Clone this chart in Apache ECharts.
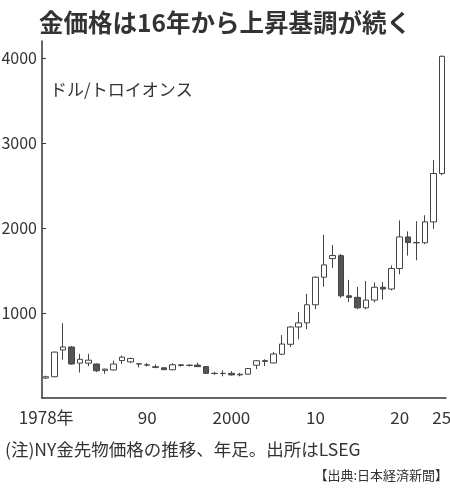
<!DOCTYPE html>
<html>
<head>
<meta charset="utf-8">
<script src="https://cdn.jsdelivr.net/npm/echarts@6/dist/echarts.min.js"></script>
<style>
  html, body { margin: 0; padding: 0; background: #fff; }
  #chart { width: 450px; height: 489px; }
</style>
</head>
<body>
<div id="chart"></div>
<script>
// 年足 (1978-2025)
var years = [];
for (var y = 1978; y <= 2025; y++) years.push(String(y));

// [始値, 終値, 安値, 高値]  ドル/トロイオンス
var candles = [
  [235, 250, 225, 262],    // 1978
  [250, 540, 245, 545],    // 1979
  [565, 600, 450, 880],    // 1980
  [600, 400, 390, 610],    // 1981
  [410, 455, 300, 520],    // 1982
  [410, 445, 375, 520],    // 1983
  [400, 320, 305, 405],    // 1984
  [325, 340, 285, 345],    // 1985
  [330, 400, 325, 440],    // 1986
  [440, 480, 400, 500],    // 1987
  [425, 465, 410, 475],    // 1988
  [400, 403, 360, 405],    // 1989
  [388, 390, 370, 410],    // 1990
  [360, 368, 350, 395],    // 1991
  [355, 333, 330, 360],    // 1992
  [333, 391, 326, 410],    // 1993
  [390, 383, 370, 395],    // 1994
  [383, 387, 370, 395],    // 1995
  [387, 369, 365, 415],    // 1996
  [369, 290, 285, 370],    // 1997
  [290, 288, 275, 310],    // 1998
  [288, 290, 255, 325],    // 1999
  [290, 272, 265, 315],    // 2000
  [272, 279, 256, 295],    // 2001
  [280, 347, 277, 350],    // 2002
  [385, 438, 340, 445],    // 2003
  [430, 440, 375, 455],    // 2004
  [412, 518, 410, 540],    // 2005
  [515, 635, 505, 740],    // 2006
  [632, 835, 600, 845],    // 2007
  [835, 884, 690, 1010],   // 2008
  [884, 1097, 810, 1225],  // 2009
  [1097, 1421, 1045, 1430],// 2010
  [1421, 1566, 1310, 1920],// 2011
  [1640, 1676, 1530, 1800],// 2012
  [1675, 1202, 1180, 1695],// 2013
  [1202, 1184, 1130, 1390],// 2014
  [1184, 1061, 1045, 1307],// 2015
  [1061, 1152, 1045, 1377],// 2016
  [1152, 1303, 1125, 1360],// 2017
  [1303, 1282, 1160, 1365],// 2018
  [1282, 1523, 1265, 1560],// 2019
  [1523, 1895, 1455, 2090],// 2020
  [1895, 1829, 1675, 1960],// 2021
  [1829, 1826, 1620, 2080],// 2022
  [1826, 2072, 1810, 2150],// 2023
  [2072, 2641, 1990, 2800],// 2024
  [2641, 4020, 2620, 4030] // 2025
];

var xLabelYears = ['1978', '1990', '2000', '2010', '2020', '2025'];
var yTicks = [1000, 2000, 3000, 4000];

var textColor = '#333';
var fontJP = '"Noto Sans CJK JP", "Noto Sans", sans-serif';

var chart = echarts.init(document.getElementById('chart'));

var option = {
  backgroundColor: '#fff',
  animation: false,
  title: [
    {
      text: '金価格は16年から上昇基調が続く',
      left: 'center',
      top: 5,
      textStyle: { fontFamily: fontJP, fontSize: 24.5, fontWeight: 'bold', color: textColor }
    }
  ],
  graphic: [
    {
      type: 'text', left: 50, top: 81,
      style: { text: 'ドル/トロイオンス', font: '17px ' + fontJP, fill: textColor }
    },
    {
      type: 'text', left: 5, top: 441,
      style: { text: '(注)NY金先物価格の推移、年足。出所はLSEG', font: '17.5px ' + fontJP, fill: textColor }
    },
    {
      type: 'text', right: 2, top: 469,
      style: { text: '【出典:日本経済新聞】', font: '13px ' + fontJP, fill: textColor }
    }
  ],
  grid: { left: 42, right: 4, top: 41, bottom: 91, outerBoundsMode: 'none', containLabel: false },
  xAxis: {
    type: 'category',
    data: years,
    boundaryGap: true,
    axisLine: { lineStyle: { color: textColor, width: 1.5 } },
    axisTick: {
      inside: true,
      length: 4,
      alignWithLabel: true,
      interval: function (idx, val) { return xLabelYears.indexOf(val) >= 0; },
      lineStyle: { color: textColor }
    },
    axisLabel: {
      interval: function (idx, val) { return xLabelYears.indexOf(val) >= 0; },
      formatter: function (val) {
        if (val === '1978') return '1978年';
        if (val === '2000') return '2000';
        return val.slice(2);
      },
      margin: 11,
      fontFamily: fontJP,
      fontSize: 17,
      color: textColor
    },
    splitLine: { show: false }
  },
  yAxis: {
    type: 'value',
    min: 0,
    max: 4200,
    axisLine: { show: true, lineStyle: { color: textColor, width: 1.5 } },
    axisTick: { show: true, inside: true, length: 4, customValues: yTicks, lineStyle: { color: textColor } },
    axisLabel: {
      customValues: yTicks,
      formatter: function (v) { return String(v); },
      margin: 5,
      fontFamily: fontJP,
      fontSize: 16,
      color: textColor
    },
    splitLine: { show: false }
  },
  series: [
    {
      type: 'candlestick',
      data: candles,
      barWidth: 6,
      itemStyle: {
        color: '#fff',
        color0: '#555',
        borderColor: '#444',
        borderColor0: '#444',
        borderWidth: 1
      }
    }
  ]
};

chart.setOption(option);
</script>
</body>
</html>
